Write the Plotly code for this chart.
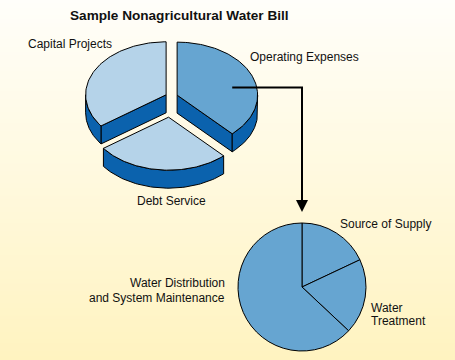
import numpy as np
import plotly.graph_objects as go

# ---------------- data ----------------
bill_labels = ["Operating Expenses", "Debt Service", "Capital Projects"]
bill_values = [38, 27, 35]

opex_labels = ["Source of Supply", "Water Treatment", "Water Distribution and System Maintenance"]
opex_values = [18, 19, 63]

title_text = "Sample Nonagricultural Water Bill"

# ---------------- style ----------------
W, H = 455, 360
FONT = "Liberation Sans, Arial, sans-serif"
BG_STOPS = [(0.0, (255, 254, 250)), (0.5, (255, 249, 222)), (1.0, (255, 243, 192))]
LIGHT, MID, DARK = "#b5d3e9", "#66a5d1", "#0b62ad"
bill_colors = [MID, LIGHT, LIGHT]
bill_pull = [0.075, 0.39, 0.075]
CX, CY, RA, RB, DEPTH = 171.5, 96.6, 80.5, 53, 18   # 3D pie geometry (px)
P2_CX, P2_CY, P2_R = 302, 287, 64                   # lower pie geometry (px)

fig = go.Figure()


# background gradient as thin bands
def bg_color(f):
    for (f0, c0), (f1, c1) in zip(BG_STOPS[:-1], BG_STOPS[1:]):
        if f0 <= f <= f1:
            u = (f - f0) / (f1 - f0)
            c = [round(c0[j] + (c1[j] - c0[j]) * u) for j in range(3)]
            return f"rgb({c[0]},{c[1]},{c[2]})"
    return "white"


NB = 90
shapes = []
for k in range(NB):
    y0, y1 = H * k / NB, H * (k + 1) / NB
    shapes.append(dict(type="rect", xref="paper", yref="paper", x0=0, x1=1,
                       y0=1 - y1 / H, y1=1 - y0 / H + 0.002, layer="below",
                       line=dict(width=0), fillcolor=bg_color((k + 0.5) / NB)))

# ---------------- 3D exploded pie ----------------
total = float(sum(bill_values))
cum = np.concatenate([[0], np.cumsum(bill_values)]) / total
slices = []
for i in range(len(bill_values)):
    hi = 90 - cum[i] * 360        # CCW upper bound (deg)
    lo = 90 - cum[i + 1] * 360    # CCW lower bound (deg)
    mid = np.radians((lo + hi) / 2)
    cx = CX + bill_pull[i] * RA * np.cos(mid)
    cy = CY - bill_pull[i] * RB * np.sin(mid)
    slices.append((i, lo, hi, cx, cy))


def rim(cx, cy, t, dz=0.0):
    t = np.radians(t)
    return cx + RA * np.cos(t), cy - RB * np.sin(t) + dz


def poly(xs, ys, color):
    fig.add_trace(go.Scatter(x=list(xs) + [xs[0]], y=list(ys) + [ys[0]], mode="lines",
                             fill="toself", fillcolor=color,
                             line=dict(color="black", width=1),
                             hoverinfo="skip", showlegend=False))


order = sorted(slices, key=lambda s: s[4] - RB * 0.3 * np.sin(np.radians((s[1] + s[2]) / 2)))
for i, lo, hi, cx, cy in order:
    for edge, vis in ((lo, np.cos(np.radians(lo)) > 1e-6), (hi, np.cos(np.radians(hi)) < -1e-6)):
        if vis:
            ex, ey = rim(cx, cy, edge)
            poly([cx, ex, ex, cx], [cy, ey, ey + DEPTH, cy + DEPTH], DARK)
    for k in (-1, 0, 1):
        a0, a1 = max(lo, -180 + 360 * k), min(hi, 360 * k)
        if a1 - a0 > 0.5:
            t = np.linspace(a0, a1, 60)
            tx, ty = rim(cx, cy, t)
            poly(np.concatenate([tx, tx[::-1]]), np.concatenate([ty, ty[::-1] + DEPTH]), DARK)
    t = np.linspace(lo, hi, 90)
    tx, ty = rim(cx, cy, t)
    poly(np.concatenate([[cx], tx]), np.concatenate([[cy], ty]), bill_colors[i])

# ---------------- lower pie ----------------
fig.add_trace(go.Pie(
    labels=opex_labels, values=opex_values, sort=False, direction="clockwise",
    rotation=0, textinfo="none", hoverinfo="label+value",
    marker=dict(colors=[MID] * 3, line=dict(color="black", width=1)),
    showlegend=False,
    domain=dict(x=[(P2_CX - P2_R) / W, (P2_CX + P2_R) / W],
                y=[1 - (P2_CY + P2_R) / H, 1 - (P2_CY - P2_R) / H])))

# ---------------- connector arrow ----------------
op = slices[0]
sx, sy = op[3] + 0.7 * RA * np.cos(np.radians(12)), op[4] - 0.7 * RB * np.sin(np.radians(12))
tip_y = P2_CY - P2_R - 11
fig.add_trace(go.Scatter(x=[sx, P2_CX, P2_CX], y=[sy, sy, tip_y - 4], mode="lines",
                         line=dict(color="black", width=2), hoverinfo="skip", showlegend=False))
fig.add_annotation(x=P2_CX, y=tip_y, ax=P2_CX, ay=tip_y - 10, xref="x", yref="y",
                   axref="x", ayref="y", showarrow=True, arrowhead=2, arrowsize=1.2,
                   arrowwidth=2, arrowcolor="black", text="")


# ---------------- labels ----------------
def label(text, x, y, anchor, size=12, bold=False):
    fig.add_annotation(x=x, y=y, xref="x", yref="y", text=f"<b>{text}</b>" if bold else text,
                       showarrow=False, xanchor=anchor, yanchor="middle",
                       font=dict(family=FONT, size=size, color="#111111"))


label(title_text, 179.5, 15, "center", size=13.6, bold=True)
label(bill_labels[2], 26, 44, "left")
label(bill_labels[0], 248, 57, "left")
label(bill_labels[1], 171.5, 201, "center")
label(opex_labels[0], 338, 224, "left")
label("Water Distribution", 227, 283, "right")
label("and System Maintenance", 227, 298, "right")
label("Water", 369, 308, "left")
label("Treatment", 369, 321, "left")

fig.update_layout(
    width=W, height=H, margin=dict(l=0, r=0, t=0, b=0),
    paper_bgcolor="rgb(255,249,222)", plot_bgcolor="rgba(0,0,0,0)",
    shapes=shapes,
    xaxis=dict(range=[0, W], visible=False, fixedrange=True),
    yaxis=dict(range=[H, 0], visible=False, fixedrange=True),
    showlegend=False)

fig.write_html("out.html", config={"displayModeBar": False},
               post_script="document.body.style.margin='0';document.body.style.padding='0';")
